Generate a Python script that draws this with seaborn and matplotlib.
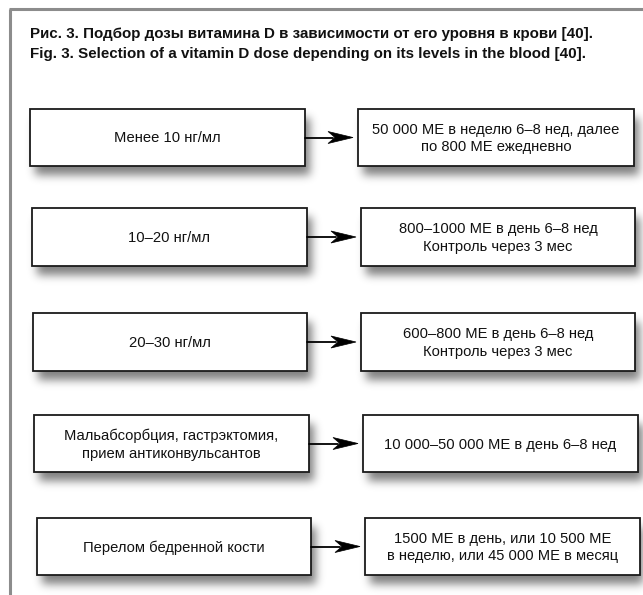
import numpy as np
import matplotlib
matplotlib.use("Agg")
import matplotlib.pyplot as plt
from matplotlib import font_manager
from matplotlib.patches import Rectangle, Polygon
import seaborn as sns

title_ru = "Рис. 3. Подбор дозы витамина D в зависимости от его уровня в крови [40]."
title_en = "Fig. 3. Selection of a vitamin D dose depending on its levels in the blood [40]."

blood_levels = [
    "Менее 10 нг/мл",
    "10–20 нг/мл",
    "20–30 нг/мл",
    "Мальабсорбция, гастрэктомия,\nприем антиконвульсантов",
    "Перелом бедренной кости",
]
doses = [
    "50 000 МЕ в неделю 6–8 нед, далее\nпо 800 МЕ ежедневно",
    "800–1000 МЕ в день 6–8 нед\nКонтроль через 3 мес",
    "600–800 МЕ в день 6–8 нед\nКонтроль через 3 мес",
    "10 000–50 000 МЕ в день 6–8 нед",
    "1500 МЕ в день, или 10 500 МЕ\nв неделю, или 45 000 МЕ в месяц",
]

# layout, in pixels (y goes down)
W, H = 643, 595
row_top = [109, 208, 313, 415, 518]
row_bottom = [166, 266, 371, 472, 575]
left_x0 = [30, 32, 33, 34, 37]
left_x1 = [305, 307, 307, 309, 311]
right_x0 = [358, 361, 361, 363, 365]
right_x1 = [634, 635, 635, 638, 640]

sns.set_style("white")
names = {f.name for f in font_manager.fontManager.ttflist}
if "Liberation Sans Narrow" in names:
    fam, box_fs, title_fs = "Liberation Sans Narrow", 11.4, 11.4
else:
    fam, box_fs, title_fs = "Liberation Sans", 10.6, 10.9
plt.rcParams["font.family"] = [fam, "DejaVu Sans"]
line_sp = 20 / (box_fs * 100 / 72)

fig = plt.figure(figsize=(W / 100, H / 100), dpi=100)
ax = fig.add_axes([0, 0, 1, 1])

# soft drop shadows under the boxes
mask = np.zeros((H, W))
dx, dy = 5, 9
for i in range(len(blood_levels)):
    for x0, x1 in ((left_x0[i], left_x1[i]), (right_x0[i], right_x1[i])):
        mask[row_top[i] + dy:row_bottom[i] + dy, x0 + dx:x1 + dx] = 1
k = np.arange(-14, 15)
g = np.exp(-k ** 2 / (2 * 4.5 ** 2))
g /= g.sum()
mask = np.apply_along_axis(lambda r: np.convolve(r, g, mode="same"), 1, mask)
mask = np.apply_along_axis(lambda c: np.convolve(c, g, mode="same"), 0, mask)
shadow = np.zeros((H, W, 4))
shadow[..., 3] = 0.5 * mask
ax.imshow(shadow, extent=(0, W, H, 0), zorder=1, interpolation="bilinear", aspect="auto")

# frame
ax.plot([9, W], [9, 9], color="#8c8c8c", lw=2.2, solid_capstyle="butt", zorder=1)
ax.plot([10, 10], [9, H], color="#8c8c8c", lw=2.2, solid_capstyle="butt", zorder=1)

ax.text(30, 34, title_ru, fontsize=title_fs, fontweight="bold", va="center", ha="left", color="#111111")
ax.text(30, 54, title_en, fontsize=title_fs, fontweight="bold", va="center", ha="left", color="#111111")

for i in range(len(blood_levels)):
    mid = (row_top[i] + row_bottom[i]) / 2
    h = row_bottom[i] - row_top[i]
    for x0, x1, label in ((left_x0[i], left_x1[i], blood_levels[i]),
                          (right_x0[i], right_x1[i], doses[i])):
        ax.add_patch(Rectangle((x0, row_top[i]), x1 - x0, h, fc="white",
                               ec="#1a1a1a", lw=1.3, zorder=2))
        ax.text((x0 + x1) / 2, mid + 1, label, fontsize=box_fs, ha="center", va="center",
                linespacing=line_sp, color="#111111", zorder=3)
    # arrow
    tip = right_x0[i] - 5
    ax.plot([left_x1[i], tip - 20], [mid, mid], color="black", lw=1.3, zorder=2)
    ax.add_patch(Polygon([(tip, mid), (tip - 25, mid - 6), (tip - 18, mid), (tip - 25, mid + 6)],
                         closed=True, fc="black", ec="black", lw=0.5, zorder=2))

ax.set_xlim(0, W)
ax.set_ylim(H, 0)
ax.axis("off")
fig.savefig("out.png", dpi=100)
